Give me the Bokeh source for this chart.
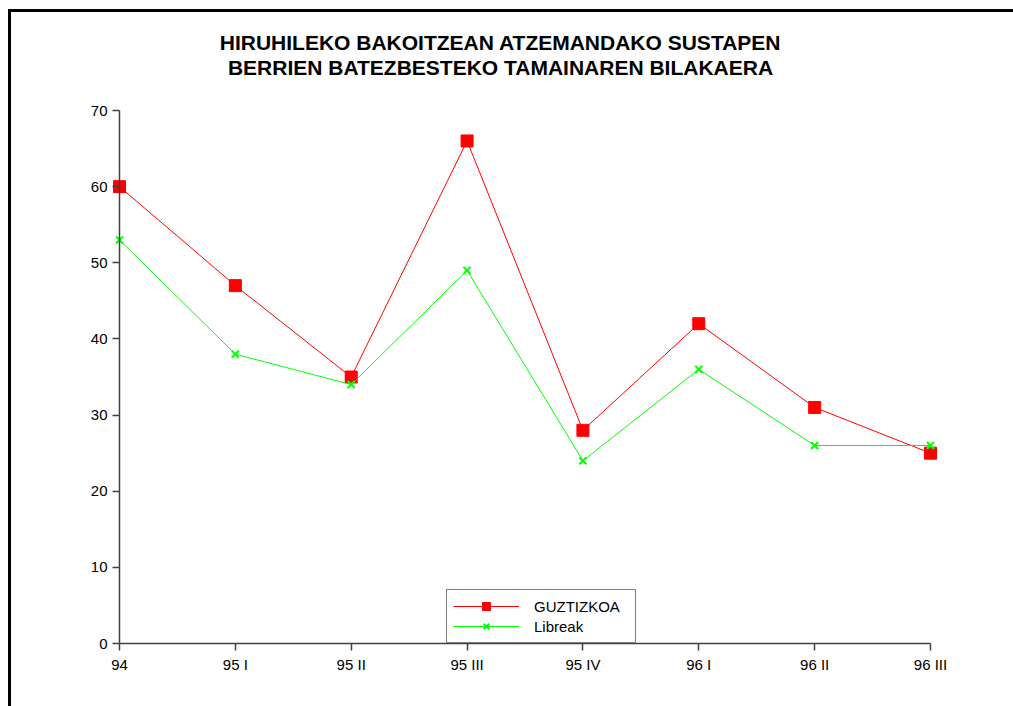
from bokeh.plotting import figure
from bokeh.models import Range1d, FixedTicker, Title, Legend, LegendItem
from bokeh.embed import file_html
from bokeh.resources import INLINE

categories = ["94", "95 I", "95 II", "95 III", "95 IV", "96 I", "96 II", "96 III"]
guztizkoa = [60, 47, 35, 66, 28, 42, 31, 25]
libreak = [53, 38, 34, 49, 24, 36, 26, 26]
y_ticks = [0, 10, 20, 30, 40, 50, 60, 70]
title_line1 = "HIRUHILEKO BAKOITZEAN ATZEMANDAKO SUSTAPEN"
title_line2 = "BERRIEN BATEZBESTEKO TAMAINAREN BILAKAERA"

xs = list(range(len(categories)))
FONT = "Liberation Sans"

# layout (canvas pixels)
W, H = 1002, 694
FL, FT, FW, FH = 24, 66, 930, 603            # frame left/top/width/height
AX_X0, AX_X1 = 108, 919                      # pixel of first/last category
AX_Y0, AX_Y1 = 631, 98                       # pixel of 0 / 70
nx = len(categories) - 1
ppx = (AX_X1 - AX_X0) / nx
ppy = (AX_Y0 - AX_Y1) / 70.0
x_start = (FL - AX_X0) / ppx
x_end = x_start + FW / ppx
y_end = 70 + (AX_Y1 - FT) / ppy
y_start = y_end - FH / ppy

p = figure(frame_width=FW, frame_height=FH, output_backend="svg", toolbar_location=None,
           x_range=Range1d(x_start, x_end), y_range=Range1d(y_start, y_end),
           min_border_left=FL, min_border_right=W - FL - FW,
           min_border_top=FT, min_border_bottom=H - FT - FH)
p.styles = {"border-left": "3px solid black", "border-top": "3px solid black",
            "margin-left": "8px", "margin-top": "9px"}
p.outline_line_color = None
p.grid.visible = False
p.background_fill_color = "white"
p.border_fill_color = "white"

# subtitle first so that it sits closest to the plot
for txt in (title_line2, title_line1):
    p.add_layout(Title(text=txt, align="center", standoff=0, text_font=FONT,
                       text_font_size="21px", text_font_style="bold", text_color="black"),
                 "above")

r1 = p.line(xs, guztizkoa, line_color="#FF0000", line_width=1)
m1 = p.scatter(xs, guztizkoa, marker="square", size=12, fill_color="#FF0000", line_color="#FF0000")
r2 = p.line(xs, libreak, line_color="#00FF00", line_width=1)
m2 = p.scatter(xs, libreak, marker="x", size=10, line_color="#00FF00", line_width=2)

for ax in (p.xaxis[0], p.yaxis[0]):
    ax.axis_line_color = "#404040"
    ax.axis_line_width = 1.5
    ax.major_tick_line_color = "#404040"
    ax.major_tick_line_width = 1.5
    ax.major_tick_out = 7
    ax.major_tick_in = 0
    ax.minor_tick_line_color = None
    ax.major_label_text_font = FONT
    ax.major_label_text_font_size = "15px"
    ax.major_label_text_color = "black"
    ax.major_label_standoff = 5

p.xaxis[0].ticker = FixedTicker(ticks=xs)
p.xaxis[0].major_label_overrides = {i: c for i, c in enumerate(categories)}
p.xaxis[0].bounds = (0, nx)
p.xaxis[0].fixed_location = 0
p.yaxis[0].ticker = FixedTicker(ticks=y_ticks)
p.yaxis[0].bounds = (0, 70)
p.yaxis[0].fixed_location = 0

legend = Legend(items=[LegendItem(label="GUZTIZKOA", renderers=[r1, m1]),
                       LegendItem(label="Libreak", renderers=[r2, m2])],
                location=(411, FT + FH - AX_Y0), orientation="vertical",
                border_line_color="black", border_line_width=1,
                background_fill_color="white", background_fill_alpha=1,
                padding=6, margin=0, spacing=0,
                glyph_width=66, glyph_height=20, label_height=20,
                label_standoff=15, label_width=95,
                label_text_font=FONT, label_text_font_size="15px", label_text_color="black")
p.add_layout(legend, "center")

open("out.html", "w").write(file_html(p, INLINE))
